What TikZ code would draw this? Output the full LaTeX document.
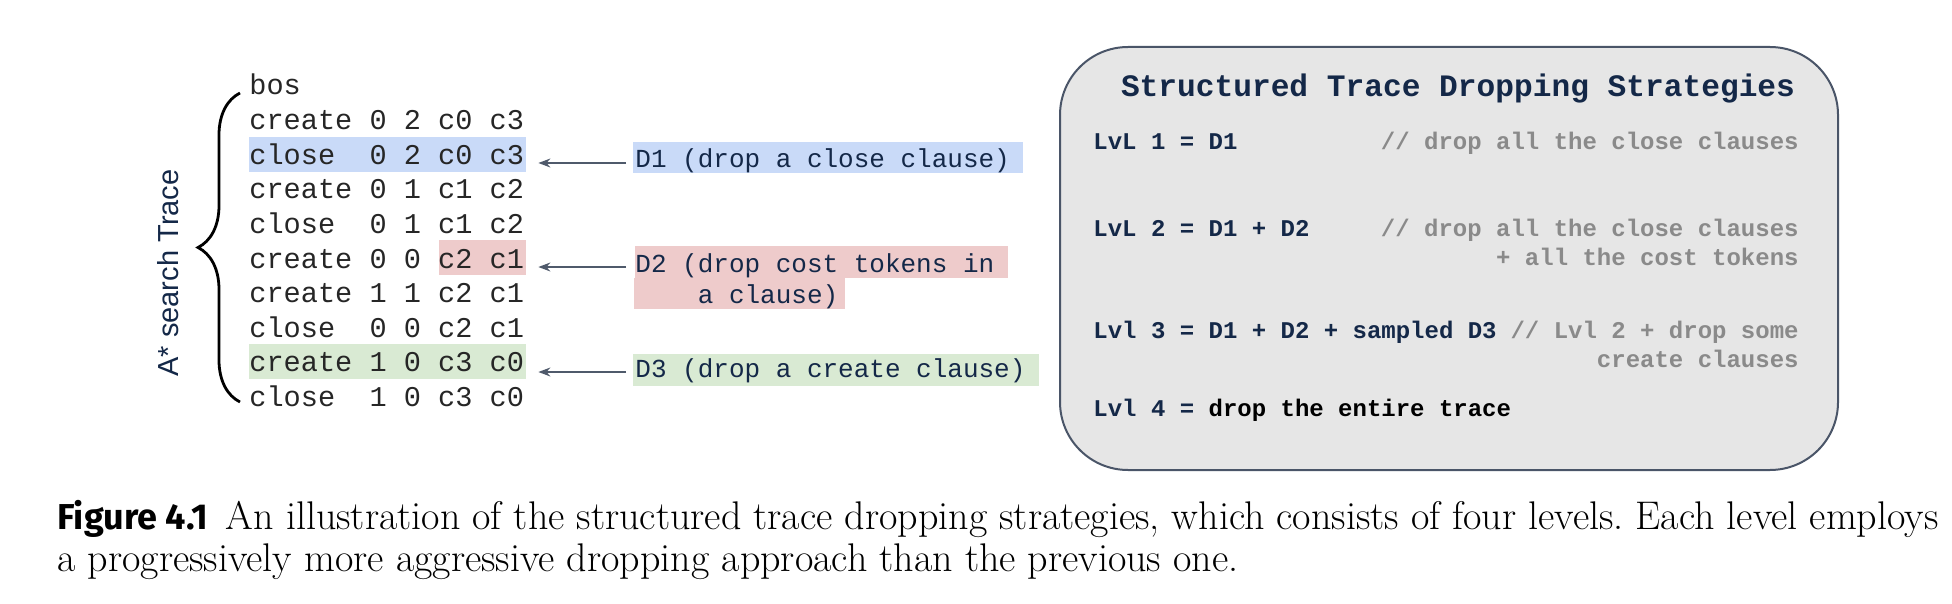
\documentclass[tikz,border=0pt]{standalone}
\usepackage{fontspec}
\setmonofont{Liberation Mono}
\newfontfamily\slidesans{Liberation Sans}
\newfontfamily\figsans{Fira Sans}
\usepackage{xcolor}
\usepackage{tikz}
\usetikzlibrary{arrows.meta, decorations.pathreplacing}
\definecolor{hlblue}{HTML}{C9DAF8}
\definecolor{hlred}{HTML}{EECBCB}
\definecolor{hlgreen}{HTML}{D9EAD3}
\definecolor{tnavy}{HTML}{142848}
\definecolor{tgray}{HTML}{8A8A8A}
\definecolor{boxgray}{HTML}{E6E6E6}
\definecolor{boxline}{HTML}{4A5568}
\definecolor{arrgray}{HTML}{4F5A6B}

\begin{document}
\begin{tikzpicture}[x=0.5pt, y=-0.5pt,
  trace/.style={font=\fontsize{14.3}{17}\ttfamily, text=black!85, inner sep=0pt, anchor=base west},
  droplbl/.style={font=\fontsize{13}{15.5}\ttfamily, text=tnavy, inner sep=0pt, anchor=base west, text height=8pt, text depth=3pt},
  lvl/.style={font=\fontsize{12}{14}\ttfamily\bfseries, text=tnavy, inner sep=0pt, anchor=base west},
  lvlnote/.style={font=\fontsize{12}{14}\ttfamily\bfseries, text=tgray, inner sep=0pt, anchor=base east},
  dropto/.style={-{Stealth[length=6pt, width=4.5pt]}, arrgray, line width=0.7pt, shorten <=4.5pt, shorten >=7pt}]
\useasboundingbox (0,0) rectangle (1952,604);

% highlights on the trace
\fill[hlblue] (249,137) rectangle (526,172);
\fill[hlred] (439,240) rectangle (526,275);
\fill[hlgreen] (249,344) rectangle (526,379);

% A* trace
\foreach \txt [count=\i from 0] in {bos, create 0 2 c0 c3, close~ 0 2 c0 c3, create 0 1 c1 c2,
    close~ 0 1 c1 c2, create 0 0 c2 c1, create 1 1 c2 c1, close~ 0 0 c2 c1,
    create 1 0 c3 c0, close~ 1 0 c3 c0}
  \node[trace] (row\i) at (249,{95+34.6*\i}) {\txt};

\draw[decorate, decoration={brace, amplitude=21pt}, line width=1.4pt] (240,402) -- (240,93);
\node[font=\fontsize{14.5}{17}\slidesans, text=tnavy, rotate=90, anchor=base, inner sep=0pt]
  (tracelbl) at (178,273) {A* search Trace};

% dropping operations
\fill[hlblue] (633,142) rectangle (1023,173);
\node[droplbl] (d1) at (635,168) {D1 (drop a close clause)};
\fill[hlred] (635,246) rectangle (1008,278);
\fill[hlred] (634,278) rectangle (845,309);
\node[droplbl] (d2) at (635,272) {D2 (drop cost tokens in};
\node[droplbl] (d2b) at (635,303) {~ ~ a clause)};
\fill[hlgreen] (633,354) rectangle (1039,386);
\node[droplbl] (d3) at (635,377) {D3 (drop a create clause)};

\draw[dropto] (d1.west) -- (d1.west -| row2.east);
\draw[dropto] (d2.west) -- (d2.west -| row5.east);
\draw[dropto] (d3.west) -- (d3.west -| row8.east);

% strategies box
\draw[boxline, fill=boxgray, line width=1pt, rounded corners=34pt] (1060,47) rectangle (1838,470);
\node[font=\fontsize{15.6}{18}\ttfamily\bfseries, text=tnavy, anchor=base, inner sep=0pt]
  (boxtitle) at (1458,97) {Structured Trace Dropping Strategies};
\node[lvl] (lvl1) at (1093,150) {LvL 1 = D1};
\node[lvlnote] (note1) at (1799,150) {// drop all the close clauses};
\node[lvl] (lvl2) at (1093,236) {LvL 2 = D1 + D2};
\node[lvlnote] (note2) at (1799,236) {// drop all the close clauses};
\node[lvlnote] (note2b) at (1799,265) {+ all the cost tokens};
\node[lvl] (lvl3) at (1093,338) {Lvl 3 = D1 + D2 + sampled D3};
\node[lvlnote] (note3) at (1799,338) {// Lvl 2 + drop some};
\node[lvlnote] (note3b) at (1799,367) {create clauses};
\node[lvl] (lvl4) at (1093,416) {Lvl 4 = \textcolor{black}{drop the entire trace}};

% caption
\node[anchor=base west, inner sep=0pt, text width=940.5pt, align=justify,
  font=\fontsize{20}{21}\selectfont\frenchspacing] (caption) at (57,529)
  {{\fontsize{18}{21}\figsans\bfseries Figure 4.1}\hspace{0.45em}An illustration of the structured trace dropping strategies, which consists of four levels. Each level employs\linebreak a progressively more aggressive dropping approach than the previous one.};
\end{tikzpicture}
\end{document}
